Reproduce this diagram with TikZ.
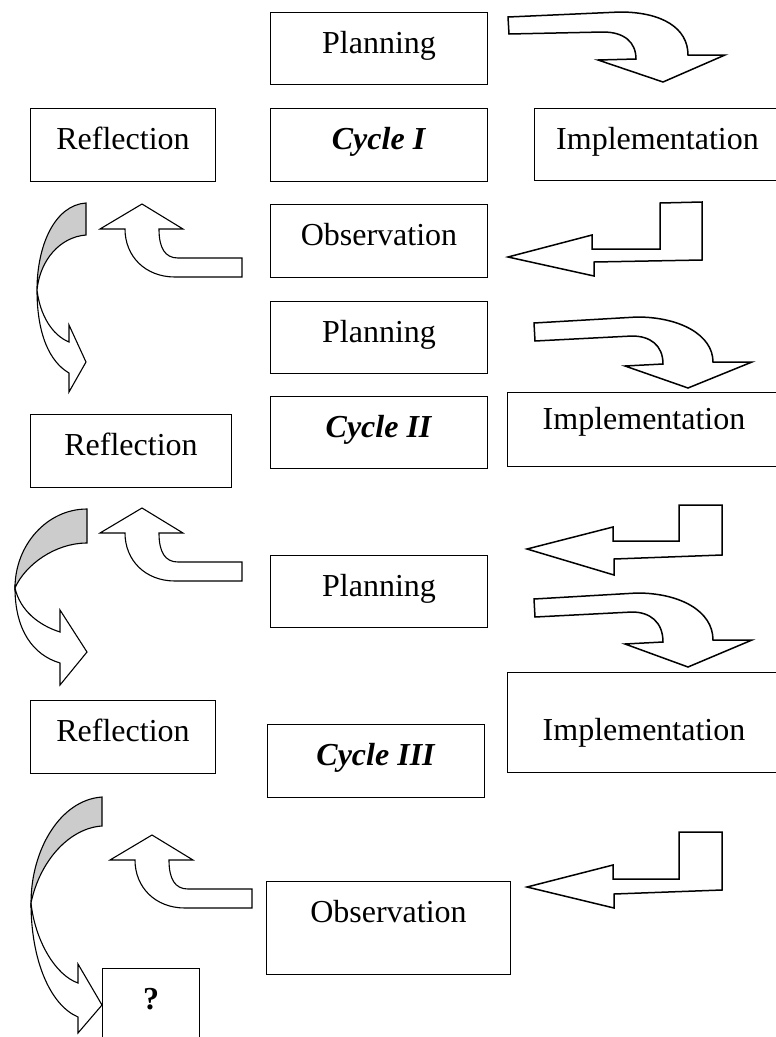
\documentclass[tikz,border=0pt]{standalone}
\usepackage{fontspec}
\setmainfont{Liberation Serif}
\usepackage{tikz}

\definecolor{bandgrey}{RGB}{204,204,204}

\tikzset{
  textbox/.style={draw, line width=1pt, anchor=north west, inner sep=0pt, align=center,
    text height=41pt, font=\fontsize{32}{38}\selectfont},
  blockarrow/.style={draw, line width=1.5pt, fill=white, line join=miter},
  turnarrow/.style={draw, line width=1.1pt, fill=white},
  greyband/.style={draw, line width=1.1pt, fill=bandgrey},
}

\begin{document}
\begin{tikzpicture}[x=1pt,y=1pt,yscale=-1,xscale=1]
\useasboundingbox (0,0) rectangle (776,1037);

% Text boxes, cycle I
\node[textbox, minimum width=217pt, text depth=31pt] (plan1) at (270,12) {Planning};
\node[textbox, minimum width=185pt, text depth=32pt] (refl1) at (30,108) {Reflection};
\node[textbox, minimum width=217pt, text depth=32pt] (cyc1) at (270,108) {\textbf{\textit{Cycle I}}};
\node[textbox, minimum width=246pt, text depth=31pt] (impl1) at (534,108) {Implementation};
\node[textbox, minimum width=217pt, text depth=32pt] (obs1) at (270,204) {Observation};

% Text boxes, cycle II
\node[textbox, minimum width=217pt, text depth=31pt] (plan2) at (270,301) {Planning};
\node[textbox, minimum width=217pt, text depth=31pt] (cyc2) at (270,396) {\textbf{\textit{Cycle II}}};
\node[textbox, minimum width=201pt, text depth=32pt] (refl2) at (30,414) {Reflection};
\node[textbox, minimum width=273pt, text height=37pt, text depth=37pt] (impl2) at (507,392) {Implementation};

% Text boxes, cycle III
\node[textbox, minimum width=217pt, text depth=31pt] (plan3) at (270,555) {Planning};
\node[textbox, minimum width=185pt, text depth=32pt] (refl3) at (30,700) {Reflection};
\node[textbox, minimum width=217pt, text depth=32pt] (cyc3) at (267,724) {\textbf{\textit{Cycle III}}};
\node[textbox, minimum width=273pt, text height=68pt, text depth=32pt] (impl3) at (507,672) {Implementation};
\node[textbox, minimum width=244pt, text depth=52pt] (obs3) at (266,881) {Observation};
\node[textbox, minimum width=97pt, text depth=39pt] (next) at (102,968) {\textbf{?}};

%Shape: Bent Arrow, planning to implementation
\draw[blockarrow] (508,17) -- (620,12) .. controls (662,12) and (688,28) .. (688,55) -- (725,55) -- (663,82) -- (598,60) -- (636,59) .. controls (636,42) and (624,32) .. (603,32) -- (509,34) -- cycle;
\draw[blockarrow] (534,323) -- (637,317) .. controls (680,317) and (713,335) .. (713,362) -- (752,362) -- (688,388) -- (625,366) -- (663,364) .. controls (663,345) and (650,336) .. (632,336) -- (535,341) -- cycle;
\draw[blockarrow] (534,599) -- (637,593) .. controls (680,593) and (713,611) .. (713,640) -- (752,640) -- (688,667) -- (625,644) -- (663,642) .. controls (663,622) and (650,612) .. (632,612) -- (535,617) -- cycle;

%Shape: Left Arrow, implementation to observation
\draw[blockarrow] (508,257) -- (592,235) -- (592,249) -- (660,249) -- (660,203) -- (702,202) -- (702,260) -- (594,262) -- (594,276) -- cycle;
\draw[blockarrow] (527,549) -- (613,527) -- (613,541) -- (679,541) -- (679,505) -- (722,505) -- (722,555) -- (614,559) -- (614,575) -- cycle;
\draw[blockarrow] (527,887) -- (613,865) -- (613,879) -- (679,879) -- (679,832) -- (722,832) -- (722,890) -- (614,894) -- (614,908) -- cycle;

%Shape: Up Turn Arrow, observation to reflection
\draw[turnarrow] (242,258) -- (242,277) -- (175,277) .. controls (145,277) and (125,256) .. (125,229) -- (100,229) -- (142,204) -- (183,229) -- (159,229) .. controls (159,248) and (165,258) .. (178,258) -- cycle;
\draw[turnarrow] (242,562) -- (242,581) -- (175,581) .. controls (145,581) and (125,560) .. (125,533) -- (100,533) -- (142,508) -- (183,533) -- (159,533) .. controls (159,552) and (165,562) .. (178,562) -- cycle;
\draw[turnarrow] (252,889) -- (252,908) -- (185,908) .. controls (155,908) and (135,887) .. (135,860) -- (110,860) -- (152,835) -- (193,860) -- (169,860) .. controls (169,879) and (175,889) .. (188,889) -- cycle;

%Shape: Curved Right Arrow, reflection to next cycle
\draw[greyband] (86,203) .. controls (55,205) and (37,245) .. (37,290) .. controls (40,260) and (60,237) .. (86,235) -- cycle;
\draw[turnarrow] (37,290) .. controls (37,335) and (50,362) .. (69,373) -- (69,392) -- (86,362) -- (69,325) -- (69,342) .. controls (52,335) and (40,315) .. (37,290) -- cycle;

\draw[greyband] (87,509) .. controls (47,509) and (15,545) .. (15,588) .. controls (25,565) and (55,543) .. (87,543) -- cycle;
\draw[turnarrow] (15,588) .. controls (15,630) and (33,655) .. (60,663) -- (60,685) -- (87,652) -- (60,610) -- (60,632) .. controls (38,625) and (20,610) .. (15,588) -- cycle;

\draw[greyband] (102,797) .. controls (60,800) and (31,850) .. (31,903) .. controls (40,860) and (70,828) .. (102,826) -- cycle;
\draw[turnarrow] (31,903) .. controls (31,960) and (50,1005) .. (78,1017) -- (78,1033) -- (102,1005) -- (78,964) -- (78,983) .. controls (55,975) and (35,940) .. (31,903) -- cycle;

\end{tikzpicture}
\end{document}
